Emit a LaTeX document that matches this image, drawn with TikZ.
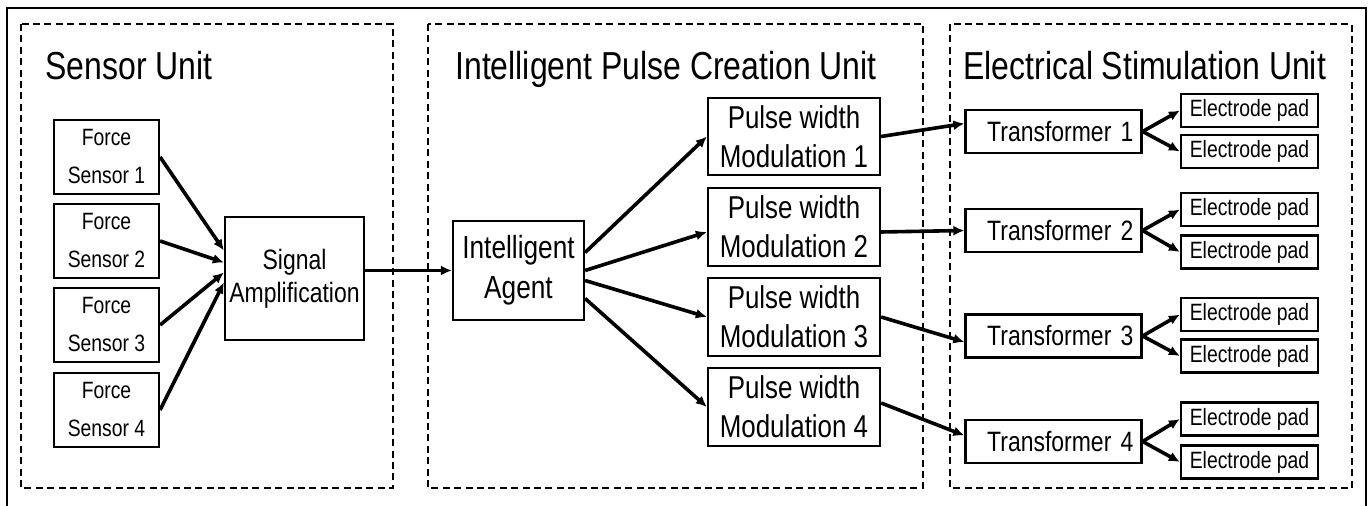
\documentclass[tikz,border=0pt]{standalone}
\usepackage{fontspec}
\setmainfont{Liberation Sans}[FakeStretch=0.82]
\usetikzlibrary{arrows.meta}

\tikzset{
    unitbox/.style={line width=1.1pt, dash pattern=on 3.5pt off 2.2pt},
    unittitle/.style={anchor=base west, inner sep=0pt, font=\fontsize{19.5}{22}\selectfont},
    blk/.style={draw, line width=1.1pt, inner sep=1pt, align=center},
    sensorbox/.style={blk, minimum width=52.5pt, minimum height=37pt, font=\fontsize{11.8}{19}\selectfont},
    ampbox/.style={blk, minimum width=69.5pt, minimum height=61.5pt, font=\fontsize{14}{16.5}\selectfont},
    agentbox/.style={blk, minimum width=65.5pt, minimum height=49.5pt, font=\fontsize{16}{20}\selectfont},
    pwmbox/.style={blk, minimum width=86pt, minimum height=38.75pt, font=\fontsize{15.8}{19.5}\selectfont},
    trafobox/.style={blk, text width=80pt, inner xsep=4pt, align=right, minimum height=21.5pt, font=\fontsize{14}{16}\selectfont},
    padbox/.style={blk, minimum width=68.5pt, minimum height=16.5pt, inner sep=0pt, font=\fontsize{11.8}{13}\selectfont},
    arr/.style={line width=1.8pt, -{Latex[length=5.5pt,width=5pt]}}
}

\begin{document}
\begin{tikzpicture}[x=0.5pt, y=-0.5pt]
    \useasboundingbox (0,0) rectangle (1371,506);
    % outer frame, open at the bottom
    \draw[line width=1.1pt] (7,506) |- (1366,8) -- (1366,506);

    % the three units
    \draw[unitbox] (21,24) rectangle (393,488);
    \draw[unitbox] (428,24) rectangle (923,488);
    \draw[unitbox] (950,24) rectangle (1352,488);
    \node[unittitle] (t1) at ( 45,80) {Sensor Unit};
    \node[unittitle] (t2) at (455,80) {Intelligent Pulse Creation Unit};
    \node[unittitle] (t3) at (963,80) {Electrical Stimulation Unit};

    % sensor unit
    \node[sensorbox] (s1) at (106.5,157) {Force\\Sensor 1};
    \node[sensorbox] (s2) at (106.5,241) {Force\\Sensor 2};
    \node[sensorbox] (s3) at (106.5,325) {Force\\Sensor 3};
    \node[sensorbox] (s4) at (106.5,410) {Force\\Sensor 4};
    \node[ampbox] (amp) at (294.5,278.5) {Signal\\Amplification};

    % pulse creation unit
    \node[agentbox] (agent) at (518.5,270.5) {Intelligent\\Agent};
    \node[pwmbox] (pwm1) at (794,136.5) {Pulse width\\Modulation 1};
    \node[pwmbox] (pwm2) at (794,227)   {Pulse width\\Modulation 2};
    \node[pwmbox] (pwm3) at (794,317)   {Pulse width\\Modulation 3};
    \node[pwmbox] (pwm4) at (794,407)   {Pulse width\\Modulation 4};

    % stimulation unit
    \node[trafobox] (tr1) at (1053.5,131.5) {Transformer 1};
    \node[trafobox] (tr2) at (1053.5,230.5) {Transformer 2};
    \node[trafobox] (tr3) at (1053.5,336)   {Transformer 3};
    \node[trafobox] (tr4) at (1053.5,441.5) {Transformer 4};
    \node[padbox] (p1a) at (1249.5,110.5) {Electrode pad};
    \node[padbox] (p1b) at (1249.5,151.5) {Electrode pad};
    \node[padbox] (p2a) at (1249.5,209.5) {Electrode pad};
    \node[padbox] (p2b) at (1249.5,252)   {Electrode pad};
    \node[padbox] (p3a) at (1249.5,314.5) {Electrode pad};
    \node[padbox] (p3b) at (1249.5,356)   {Electrode pad};
    \node[padbox] (p4a) at (1249.5,419)   {Electrode pad};
    \node[padbox] (p4b) at (1249.5,462)   {Electrode pad};

    % connections
    \draw[arr] (s1.east) -- ([yshift=14pt]amp.west);
    \draw[arr] (s2.east) -- ([yshift=8pt]amp.west);
    \draw[arr] (s3.east) -- ([yshift=3pt]amp.west);
    \draw[arr] (s4.east) -- ([yshift=-2pt]amp.west);
    \draw[arr] (amp.east |- agent.west) -- (agent.west);

    \draw[arr] ([yshift=9pt]agent.east) -- (pwm1.west);
    \draw[arr] (agent.east) -- ([yshift=-2.5pt]pwm2.west);
    \draw[arr] ([yshift=-5pt]agent.east) -- (pwm3.west);
    \draw[arr] ([yshift=-14pt]agent.east) -- (pwm4.west);

    \draw[arr] (pwm1.east) -- ([yshift=4pt]tr1.west);
    \draw[arr] ([yshift=-2.5pt]pwm2.east) -- (tr2.west);
    \draw[arr] (pwm3.east) -- ([yshift=-3pt]tr3.west);
    \draw[arr] ([yshift=2pt]pwm4.east) -- ([yshift=3pt]tr4.west);

    \draw[arr] (tr1.east) -- (p1a.west);
    \draw[arr] (tr1.east) -- (p1b.west);
    \draw[arr] (tr2.east) -- (p2a.west);
    \draw[arr] (tr2.east) -- (p2b.west);
    \draw[arr] (tr3.east) -- (p3a.west);
    \draw[arr] (tr3.east) -- (p3b.west);
    \draw[arr] (tr4.east) -- (p4a.west);
    \draw[arr] (tr4.east) -- (p4b.west);
\end{tikzpicture}
\end{document}
